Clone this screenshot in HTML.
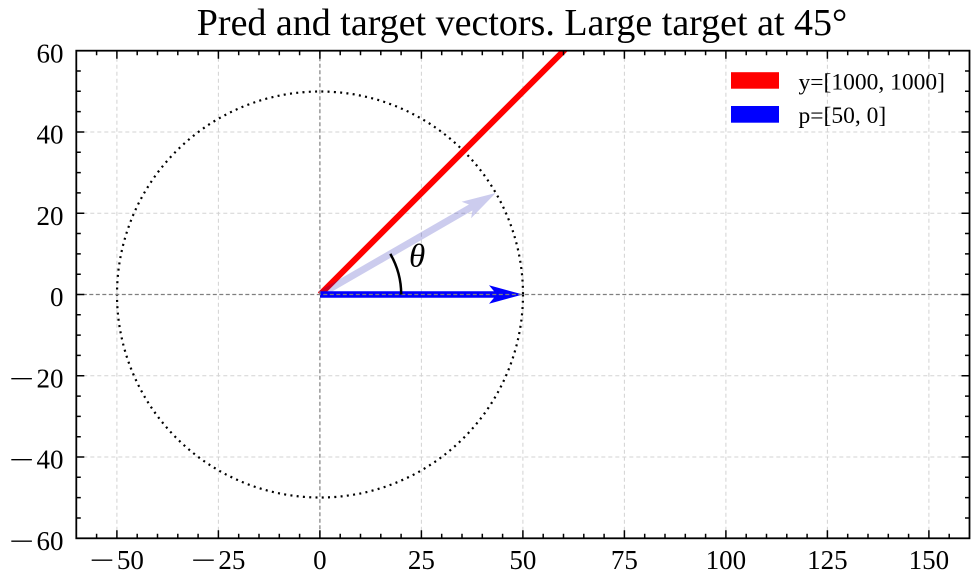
<!DOCTYPE html>
<html><head><meta charset="utf-8"><style>
html,body{margin:0;padding:0;background:#fff;}
svg{display:block;}
text{font-family:"Liberation Serif","DejaVu Serif",serif;fill:#000;}
</style></head><body>
<svg width="977" height="585" viewBox="0 0 977 585" xmlns="http://www.w3.org/2000/svg">
<defs><clipPath id="ax"><rect x="76.3" y="50.7" width="893.2" height="487.6"/></clipPath></defs>
<!-- grid -->
<g stroke="#d3d3d3" stroke-width="1" stroke-dasharray="4 3" fill="none">
<path d="M116.9 50.7V538.3M218.4 50.7V538.3M421.4 50.7V538.3M522.9 50.7V538.3M624.4 50.7V538.3M725.9 50.7V538.3M827.4 50.7V538.3M928.9 50.7V538.3"/>
<path d="M76.3 131.96H969.5M76.3 213.2H969.5M76.3 375.7H969.5M76.3 457H969.5"/>
</g>
<g clip-path="url(#ax)">
<!-- dotted circle -->
<circle cx="320" cy="294.5" r="203" fill="none" stroke="#000" stroke-width="2.2" stroke-dasharray="2 4.3"/>
<!-- red line -->
<line x1="320" y1="294.5" x2="620" y2="-5.5" stroke="#ff0000" stroke-width="6"/>
<!-- light arrow -->
<g transform="rotate(-30 320 294.5)" fill="rgb(0,0,170)" fill-opacity="0.2">
<polygon points="320,291 494,291 489,285 522.9,294.5 489,304 494,298 320,298"/>
</g>
<!-- blue arrow -->
<polygon points="320,291.2 494,291.2 489,285.3 522.9,294.5 489,303.7 494,297.8 320,297.8" fill="#0000ff"/>
<!-- zero lines -->
<g stroke="#7f7f7f" stroke-width="1.2" stroke-dasharray="4 2.5">
<line x1="319.9" y1="50.7" x2="319.9" y2="538.3"/>
<line x1="76.3" y1="294.5" x2="969.5" y2="294.5"/>
</g>
<!-- angle arc -->
<path d="M401.2 294.5A81.2 81.2 0 0 0 390.3 253.9" fill="none" stroke="#000" stroke-width="2.5"/>
</g>
<text x="409" y="266.5" font-size="33" font-style="italic">θ</text>
<!-- spines -->
<rect x="76.3" y="50.7" width="893.2" height="487.6" fill="none" stroke="#000" stroke-width="1.8"/>
<!-- ticks -->
<g stroke="#000" stroke-width="1.5" fill="none">
<path d="M116.9 538.3v-8M218.4 538.3v-8M319.9 538.3v-8M421.4 538.3v-8M522.9 538.3v-8M624.4 538.3v-8M725.9 538.3v-8M827.4 538.3v-8M928.9 538.3v-8"/>
<path d="M116.9 50.7v8M218.4 50.7v8M319.9 50.7v8M421.4 50.7v8M522.9 50.7v8M624.4 50.7v8M725.9 50.7v8M827.4 50.7v8M928.9 50.7v8"/>
<path d="M96.6 538.3v-4.5M137.2 538.3v-4.5M157.5 538.3v-4.5M177.8 538.3v-4.5M198.1 538.3v-4.5M238.7 538.3v-4.5M259 538.3v-4.5M279.3 538.3v-4.5M299.6 538.3v-4.5M340.2 538.3v-4.5M360.5 538.3v-4.5M380.8 538.3v-4.5M401.1 538.3v-4.5M441.7 538.3v-4.5M462 538.3v-4.5M482.3 538.3v-4.5M502.6 538.3v-4.5M543.2 538.3v-4.5M563.5 538.3v-4.5M583.8 538.3v-4.5M604.1 538.3v-4.5M644.7 538.3v-4.5M665 538.3v-4.5M685.3 538.3v-4.5M705.6 538.3v-4.5M746.2 538.3v-4.5M766.5 538.3v-4.5M786.8 538.3v-4.5M807.1 538.3v-4.5M847.7 538.3v-4.5M868 538.3v-4.5M888.3 538.3v-4.5M908.6 538.3v-4.5M949.2 538.3v-4.5"/>
<path d="M96.6 50.7v4.5M137.2 50.7v4.5M157.5 50.7v4.5M177.8 50.7v4.5M198.1 50.7v4.5M238.7 50.7v4.5M259 50.7v4.5M279.3 50.7v4.5M299.6 50.7v4.5M340.2 50.7v4.5M360.5 50.7v4.5M380.8 50.7v4.5M401.1 50.7v4.5M441.7 50.7v4.5M462 50.7v4.5M482.3 50.7v4.5M502.6 50.7v4.5M543.2 50.7v4.5M563.5 50.7v4.5M583.8 50.7v4.5M604.1 50.7v4.5M644.7 50.7v4.5M665 50.7v4.5M685.3 50.7v4.5M705.6 50.7v4.5M746.2 50.7v4.5M766.5 50.7v4.5M786.8 50.7v4.5M807.1 50.7v4.5M847.7 50.7v4.5M868 50.7v4.5M888.3 50.7v4.5M908.6 50.7v4.5M949.2 50.7v4.5"/>
<path d="M76.3 131.96h8M76.3 213.2h8M76.3 294.5h8M76.3 375.7h8M76.3 457h8"/>
<path d="M969.5 131.96h-8M969.5 213.2h-8M969.5 294.5h-8M969.5 375.7h-8M969.5 457h-8"/>
<path d="M76.3 71h4.5M76.3 91.3h4.5M76.3 111.6h4.5M76.3 152.3h4.5M76.3 172.6h4.5M76.3 192.9h4.5M76.3 233.5h4.5M76.3 253.9h4.5M76.3 274.2h4.5M76.3 314.8h4.5M76.3 335.1h4.5M76.3 355.4h4.5M76.3 396.1h4.5M76.3 416.4h4.5M76.3 436.7h4.5M76.3 477.3h4.5M76.3 497.6h4.5M76.3 518h4.5"/>
<path d="M969.5 71h-4.5M969.5 91.3h-4.5M969.5 111.6h-4.5M969.5 152.3h-4.5M969.5 172.6h-4.5M969.5 192.9h-4.5M969.5 233.5h-4.5M969.5 253.9h-4.5M969.5 274.2h-4.5M969.5 314.8h-4.5M969.5 335.1h-4.5M969.5 355.4h-4.5M969.5 396.1h-4.5M969.5 416.4h-4.5M969.5 436.7h-4.5M969.5 477.3h-4.5M969.5 497.6h-4.5M969.5 518h-4.5"/>
</g>
<!-- y labels -->
<g font-size="27" text-anchor="end">
<text x="63.5" y="62.4">60</text>
<text x="63.5" y="143.7">40</text>
<text x="63.5" y="224.9">20</text>
<text x="63.5" y="306.2">0</text>
<text x="63.5" y="387.4">20</text>
<text x="63.5" y="468.7">40</text>
<text x="63.5" y="550">60</text>
</g>
<g font-size="27">
<text x="9" y="387.4" textLength="25" lengthAdjust="spacingAndGlyphs">−</text>
<text x="9" y="468.7" textLength="25" lengthAdjust="spacingAndGlyphs">−</text>
<text x="9" y="550" textLength="25" lengthAdjust="spacingAndGlyphs">−</text>
</g>
<!-- x labels -->
<g font-size="27" text-anchor="middle">
<text x="319.9" y="569">0</text>
<text x="421.4" y="569">25</text>
<text x="522.9" y="569">50</text>
<text x="624.4" y="569">75</text>
<text x="725.9" y="569">100</text>
<text x="827.4" y="569">125</text>
<text x="928.9" y="569">150</text>
</g>
<g font-size="27">
<text x="89.4" y="569" textLength="25" lengthAdjust="spacingAndGlyphs">−</text>
<text x="116.9" y="569">50</text>
<text x="190.9" y="569" textLength="25" lengthAdjust="spacingAndGlyphs">−</text>
<text x="218.4" y="569">25</text>
</g>
<!-- title -->
<text x="522" y="35" font-size="38" text-anchor="middle">Pred and target vectors. Large target at 45°</text>
<!-- legend -->
<rect x="731" y="72.2" width="48" height="16.5" fill="#ff0000"/>
<rect x="731" y="106" width="48" height="16.7" fill="#0000ff"/>
<text x="798.5" y="89.5" font-size="23.5">y=[1000, 1000]</text>
<text x="798.5" y="123" font-size="23.5">p=[50, 0]</text>
</svg>
</body></html>
